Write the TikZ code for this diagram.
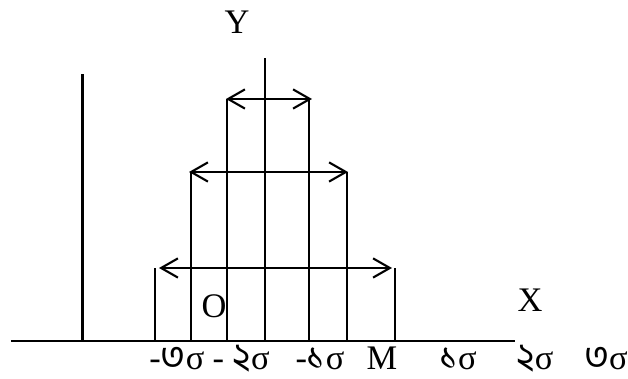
\documentclass[tikz,border=0pt]{standalone}
\usepackage{fontspec}
\setmainfont{Liberation Serif}
\newfontfamily\bnfont[Script=Bengali,Scale=1.1]{Hind Siliguri}
\usetikzlibrary{arrows.meta}
\newcommand{\bn}[1]{\smash{\bnfont #1}}

\begin{document}
\begin{tikzpicture}[
    line width=1.6pt, color=black,
    span arrow/.style={{Straight Barb[length=4.2mm,width=4.8mm,line width=1.5pt]}-{Straight Barb[length=4.2mm,width=4.8mm,line width=1.5pt]}},
    axis lab/.style={font=\fontsize{24.5}{28}\selectfont, inner sep=0pt},
    tick lab/.style={font=\fontsize{24.5}{28}\selectfont, inner sep=0pt, anchor=base}]
  % fixed canvas
  \path[use as bounding box] (0,0) rectangle (15.70,9.475);

  % ================= axes =================
  \draw (0.275,0.95) -- (12.875,0.95);
  \draw (2.06,0.95) -- (2.06,7.625);
  \draw (6.625,0.95) -- (6.625,8.025);

  % ================= sigma bands =================
  \foreach \x/\h in {3.875/2.775, 4.775/5.175, 5.675/7.0, 7.725/7.0, 8.675/5.175, 9.875/2.775}
    \draw (\x,0.95) -- (\x,\h);
  \draw[span arrow] (5.65,7.0) -- (7.80,7.0);
  \draw[span arrow] (4.725,5.175) -- (8.70,5.175);
  \draw[span arrow] (3.975,2.775) -- (9.80,2.775);

  % ================= labels =================
  \node[axis lab] (ylab) at (5.925,8.925) {Y};
  \node[axis lab] (olab) at (5.35,1.825) {O};
  \node[axis lab] (xlab) at (13.25,1.975) {X};
  \node[tick lab] (m3) at (4.425,0.24) {-\bn{৩}σ};
  \node[tick lab] (m2) at (6.03,0.24) {- \bn{২}σ};
  \node[tick lab] (m1) at (8.0,0.24) {-\bn{১}σ};
  \node[tick lab] (mean) at (9.55,0.24) {M};
  \node[tick lab] (p1) at (11.45,0.24) {\bn{১}σ};
  \node[tick lab] (p2) at (13.375,0.24) {\bn{২}σ};
  \node[tick lab] (p3) at (15.15,0.24) {\bn{৩}σ};
\end{tikzpicture}
\end{document}
